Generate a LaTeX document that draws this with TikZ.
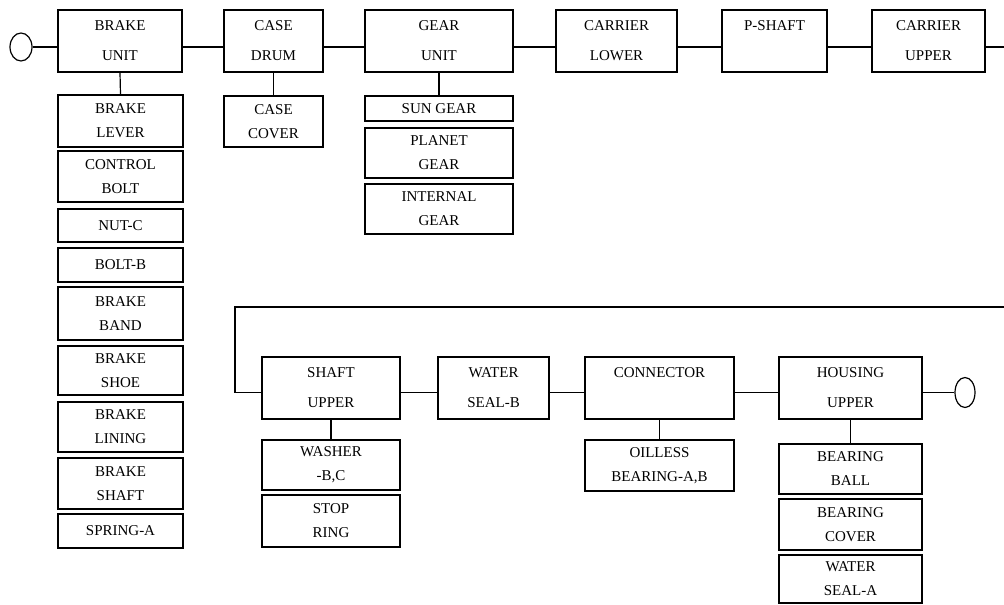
\documentclass[tikz,border=0pt]{standalone}
\usepackage{fontspec}
\setmainfont{Liberation Serif}
\usetikzlibrary{shapes.geometric}
\tikzset{
  box/.style={draw, line width=1.2pt, inner sep=0pt, align=center},
  topbox/.style={box, minimum height=62pt, font=\fontsize{15}{30}\selectfont},
  subbox/.style={box, font=\fontsize{15}{24}\selectfont},
  conn/.style={line width=1.2pt},
  endcap/.style={draw, ellipse, line width=1.2pt, inner sep=0pt},
}
\begin{document}
\begin{tikzpicture}[x=1pt,y=-1pt]
\useasboundingbox (0,0) rectangle (1004,605);
% top row
\node[endcap, minimum width=22pt, minimum height=28pt] (e1) at (21,47) {};
\node[topbox, minimum width=124pt] (bu) at (120,41) {BRAKE\\UNIT};
\node[topbox, minimum width=99pt] (cd) at (273.5,41) {CASE\\DRUM};
\node[topbox, minimum width=148pt] (gu) at (439,41) {GEAR\\UNIT};
\node[topbox, minimum width=121pt] (cl) at (616.5,41) {CARRIER\\LOWER};
\node[topbox, minimum width=105pt] (ps) at (774.5,41) {P-SHAFT\\\mbox{}};
\node[topbox, minimum width=113pt] (cu) at (928.5,41) {CARRIER\\UPPER};
\coordinate (rend) at (1004,47);
% brake unit parts
\node[subbox, minimum width=125pt, minimum height=52pt] (bl) at (120.5,121) {BRAKE\\LEVER};
\node[subbox, minimum width=125pt, minimum height=51pt] (cb) at (120.5,176.5) {CONTROL\\BOLT};
\node[subbox, minimum width=125pt, minimum height=33pt] (nc) at (120.5,225.5) {NUT-C};
\node[subbox, minimum width=125pt, minimum height=34pt] (bb) at (120.5,265) {BOLT-B};
\node[subbox, minimum width=125pt, minimum height=53pt] (bd) at (120.5,313.5) {BRAKE\\BAND};
\node[subbox, minimum width=125pt, minimum height=49pt] (bs) at (120.5,370.5) {BRAKE\\SHOE};
\node[subbox, minimum width=125pt, minimum height=50pt] (bli) at (120.5,427) {BRAKE\\LINING};
\node[subbox, minimum width=125pt, minimum height=51pt] (bsh) at (120.5,483.5) {BRAKE\\SHAFT};
\node[subbox, minimum width=125pt, minimum height=34pt] (sa) at (120.5,531) {SPRING-A};
% case parts
\node[subbox, minimum width=99pt, minimum height=51pt] (cc) at (273.5,121.5) {CASE\\COVER};
% gear parts
\node[subbox, minimum width=148pt, minimum height=25pt] (sg) at (439,108.5) {SUN GEAR};
\node[subbox, minimum width=148pt, minimum height=50pt] (pg) at (439,153) {PLANET\\GEAR};
\node[subbox, minimum width=148pt, minimum height=50pt] (ig) at (439,209) {INTERNAL\\GEAR};
% bottom row
\coordinate (lc) at (235,307);
\coordinate (le) at (1004,307);
\node[topbox, minimum width=138pt] (su) at (331,388) {SHAFT\\UPPER};
\node[topbox, minimum width=111pt] (ws) at (493.5,388) {WATER\\SEAL-B};
\node[topbox, minimum width=149pt] (cn) at (659.5,388) {CONNECTOR\\\mbox{}};
\node[topbox, minimum width=143pt] (hu) at (850.5,388) {HOUSING\\UPPER};
\node[endcap, minimum width=20pt, minimum height=30pt] (e2) at (965,392.5) {};
% bottom parts
\node[subbox, minimum width=138pt, minimum height=50pt] (wb) at (331,465) {WASHER\\-B,C};
\node[subbox, minimum width=138pt, minimum height=52pt] (sr) at (331,521) {STOP\\RING};
\node[subbox, minimum width=149pt, minimum height=51pt] (ob) at (659.5,465.5) {OILLESS\\BEARING-A,B};
\node[subbox, minimum width=143pt, minimum height=50pt] (bba) at (850.5,469) {BEARING\\BALL};
\node[subbox, minimum width=143pt, minimum height=51pt] (bco) at (850.5,524.5) {BEARING\\COVER};
\node[subbox, minimum width=143pt, minimum height=48pt] (wsa) at (850.5,579) {WATER\\SEAL-A};
% connectors top
\draw[conn] (e1.east) -- (bu.west |- e1.east);
\draw[conn] (bu.east |- e1.east) -- (cd.west |- e1.east);
\draw[conn] (cd.east |- e1.east) -- (gu.west |- e1.east);
\draw[conn] (gu.east |- e1.east) -- (cl.west |- e1.east);
\draw[conn] (cl.east |- e1.east) -- (ps.west |- e1.east);
\draw[conn] (ps.east |- e1.east) -- (cu.west |- e1.east);
\draw[conn] (cu.east |- rend) -- (rend);
\draw[conn] (bu.south) -- (bl.north);
\draw[conn] (cd.south) -- (cc.north);
\draw[conn] (gu.south) -- (sg.north);
% connectors bottom
\draw[conn] (le) -- (lc) |- (su.west |- e2.west);
\draw[conn] (su.east |- e2.west) -- (ws.west |- e2.west);
\draw[conn] (ws.east |- e2.west) -- (cn.west |- e2.west);
\draw[conn] (cn.east |- e2.west) -- (hu.west |- e2.west);
\draw[conn] (hu.east |- e2.west) -- (e2.west);
\draw[conn] (su.south) -- (wb.north);
\draw[conn] (cn.south) -- (ob.north);
\draw[conn] (hu.south) -- (bba.north);
\end{tikzpicture}
\end{document}
